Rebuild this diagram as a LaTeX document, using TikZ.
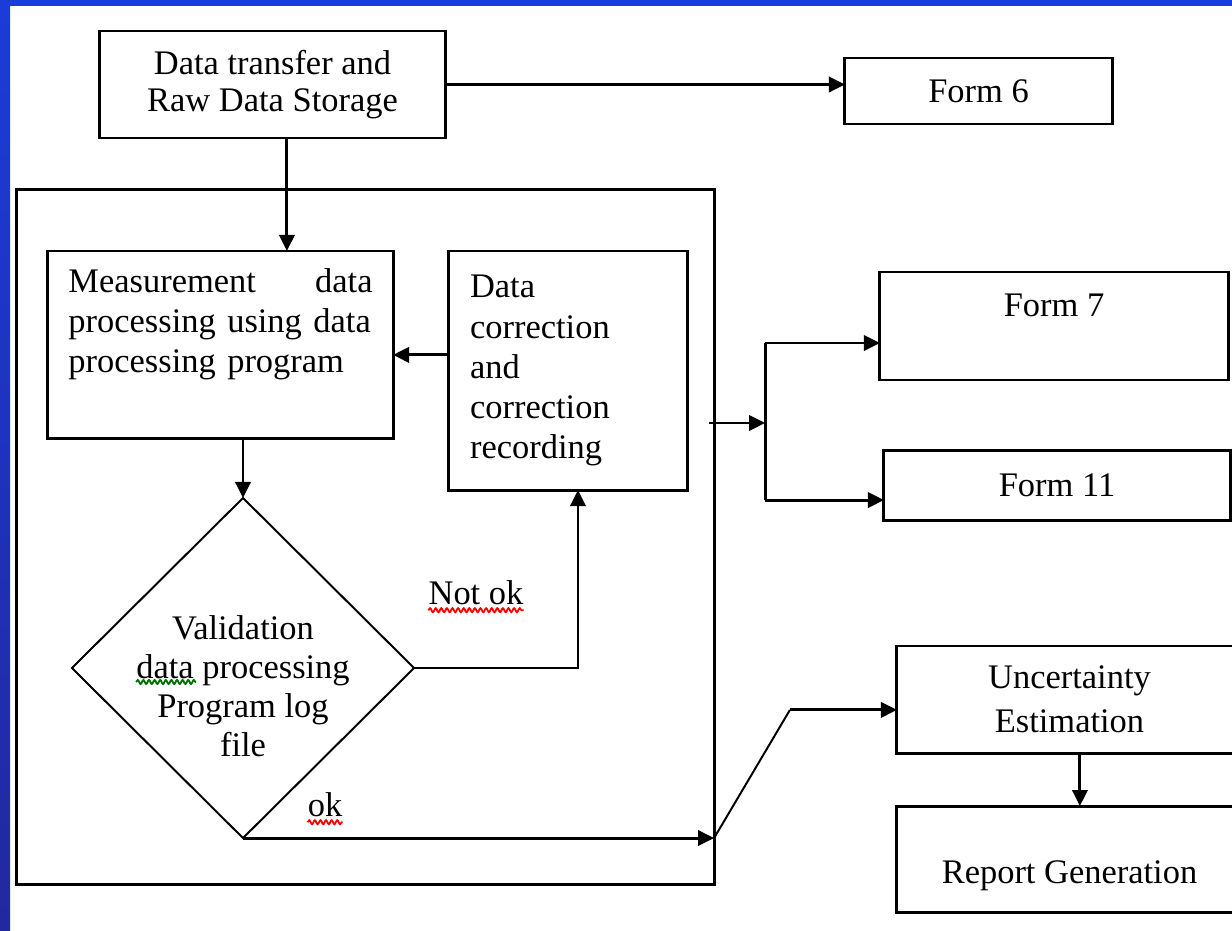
\documentclass[tikz,border=0pt]{standalone}
\usepackage{fontspec}
\setmainfont{Liberation Serif}
\usetikzlibrary{positioning,shapes.geometric,arrows.meta,decorations.pathmorphing}
\definecolor{bandblue}{RGB}{27,60,217}
\definecolor{banddark}{RGB}{34,40,160}
\definecolor{grammargreen}{RGB}{0,110,0}

\begin{document}
\begin{tikzpicture}[
    x=0.025cm, y=-0.025cm,
    font=\fontsize{24.5}{28.5}\selectfont,
 mybox/.style = {
        draw, rectangle, align=center, line width=2.1pt,
        inner sep=0pt, outer sep=0pt},
 mytext/.style = {
        align=left, inner sep=0pt},
 decision/.style = {
        draw, diamond, line width=1.4pt, inner sep=0pt, outer sep=0pt},
    arrow/.style = {line width=2.1pt,-{Triangle[length=0.4cm 0,width=0.38cm 0]}},
     link/.style = {line width=2.1pt},
slantlink/.style = {line width=1.4pt},
spellwave/.style = {red, line width=1.3pt, decorate,
        decoration={snake, segment length=0.14cm, amplitude=0.05cm}},
grammarwave/.style = {spellwave, grammargreen}
                    ]
\useasboundingbox (0,0) rectangle (1232,930);
% the blue edges
\fill[bandblue] (0,0) rectangle (1232,6);
\shade[top color=bandblue, bottom color=banddark] (0,0) rectangle (10,930);
% the frame round the processing loop
\node (frame) [mybox, minimum width=17.425cm, minimum height=17.35cm] at (365.5,537) {};
% the nodes at the top
\node (raw) [mybox, minimum width=8.625cm, minimum height=2.675cm,
             font=\fontsize{24.5}{26.5}\selectfont] at (272.5,84.5)
                                        {Data transfer and\\
                                        Raw Data Storage};
\node (form6) [mybox, minimum width=6.675cm, minimum height=1.65cm] at (978.5,91)
                                        {Form 6};
% the loop inside the frame
\node (meas) [mybox, minimum width=8.625cm, minimum height=4.675cm,
              label={[mytext, text width=7.6cm, yshift=0.5cm]center:%
                        Measurement\hfill data\\
                        processing using data\\
                        processing program}] at (220.5,344.5) {};
\node (corr) [mybox, minimum width=5.975cm, minimum height=5.975cm,
              text width=4.875cm, align=left,
              right=1.375cm of meas.north east, anchor=north west]
                                        {Data\\
                                        correction\\
                                        and\\
                                        correction\\
                                        recording};
\node (valid) [decision, minimum width=8.55cm, minimum height=8.5cm] at (243,668) {};
\node (validtxt) [align=center, inner sep=0pt,
                  font=\fontsize{24.5}{27.7}\selectfont] at (243,686)
                                        {Validation\\
                                        data processing\\
                                        Program log\\
                                        file};
% the forms and the report on the right
\node (form7) [mybox, minimum width=8.7cm, minimum height=2.7cm,
               label={[yshift=0.525cm]center:Form 7}] at (1054,326) {};
\node (form11) [mybox, minimum width=8.65cm, minimum height=1.75cm,
                below=1.75cm of form7, xshift=0.075cm] {Form 11};
\node (unc) [mybox, minimum width=8.625cm, minimum height=2.675cm,
             font=\fontsize{24.5}{31}\selectfont] at (1069.5,699.5)
                                        {Uncertainty\\
                                        Estimation};
\node (report) [mybox, minimum width=8.625cm, minimum height=2.65cm,
                below=1.325cm of unc,
                label={[yshift=-0.425cm]center:Report Generation}] {};
% the branch labels
\node (notok) [inner sep=0pt] at (476,593) {Not ok};
\node (ok) [inner sep=0pt] at (325,805) {ok};
% the arrows
\draw[arrow] ([xshift=0.36cm] raw.south) coordinate (a)
                                       -- (a |- meas.north);
\draw[arrow] (raw.east) -- (raw.east -| form6.west);
\draw[arrow] ([yshift=0.39cm] corr.west) coordinate (b)
                                       -- (b -| meas.east);
\draw[arrow] (meas.south -| valid.north) -- (valid.north);
\draw[arrow] (valid.east) -| ([xshift=0.26cm] corr.south);
\draw[arrow] (valid.south) -- (valid.south -| frame.east) coordinate (c);
\draw[slantlink] (c) -- ([xshift=-2.675cm,yshift=-0.26cm] unc.west) coordinate (d);
\draw[arrow] (d) -- (d -| unc.west);
\draw[arrow] ([xshift=-0.125cm,yshift=2.85cm] frame.east) -- ++(1.4cm,0) coordinate (e);
\draw[link] ([yshift=-0.425cm] form7.west -| e) coordinate (f)
                                       -- ([yshift=-0.375cm] form11.west -| e) coordinate (g);
\draw[arrow] (f) -- (f -| form7.west);
\draw[arrow] (g) -- (g -| form11.west);
\draw[arrow] ([xshift=0.26cm] unc.south) -- ([xshift=0.26cm] report.north);
% squiggles under the flagged words
\draw[spellwave] ([yshift=-0.12cm] notok.south west) -- ([yshift=-0.12cm] notok.south east);
\draw[spellwave] ([yshift=-0.12cm] ok.south west) -- ([yshift=-0.12cm] ok.south east);
\draw[grammarwave] ([yshift=0.1cm] validtxt.west) -- ++(1.5cm,0);
\end{tikzpicture}
\end{document}
